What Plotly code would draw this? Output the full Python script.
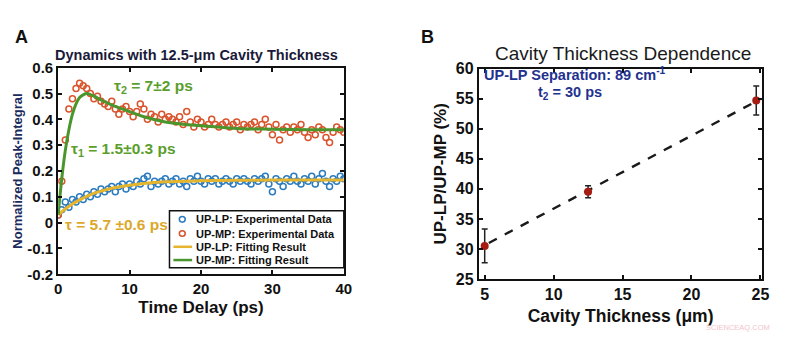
import plotly.graph_objects as go

# ---------------- Panel A data ----------------
t_exp = [0, 0.5, 1, 1.5, 2, 2.5, 3, 3.5, 4, 4.5, 5, 5.5, 6, 6.5, 7, 7.5, 8, 8.5, 9, 9.5,
         10, 10.5, 11, 11.5, 12, 12.5, 13, 13.5, 14, 14.5, 15, 15.5, 16, 16.5, 17, 17.5, 18, 18.5, 19, 19.5,
         20, 20.5, 21, 21.5, 22, 22.5, 23, 23.5, 24, 24.5, 25, 25.5, 26, 26.5, 27, 27.5, 28, 28.5, 29, 29.5,
         30, 30.5, 31, 31.5, 32, 32.5, 33, 33.5, 34, 34.5, 35, 35.5, 36, 36.5, 37, 37.5, 38, 38.5, 39, 39.5, 40]

up_mp_exp = [0.03, 0.16, 0.32, 0.44, 0.48, 0.52, 0.54, 0.53, 0.52, 0.50, 0.48, 0.49, 0.47, 0.46, 0.45, 0.47, 0.44, 0.42, 0.44, 0.45,
             0.43, 0.41, 0.43, 0.46, 0.44, 0.40, 0.42, 0.41, 0.39, 0.42, 0.40, 0.41, 0.40, 0.39, 0.41, 0.38, 0.43, 0.39, 0.37, 0.40,
             0.39, 0.37, 0.38, 0.40, 0.38, 0.37, 0.38, 0.39, 0.37, 0.38, 0.39, 0.36, 0.38, 0.37, 0.38, 0.39, 0.36, 0.38, 0.40, 0.37,
             0.34, 0.38, 0.32, 0.36, 0.37, 0.35, 0.37, 0.36, 0.38, 0.35, 0.33, 0.36, 0.34, 0.37, 0.36, 0.33, 0.31, 0.35, 0.37, 0.36, 0.35]

up_lp_exp = [0.03, 0.05, 0.08, 0.06, 0.09, 0.08, 0.10, 0.09, 0.11, 0.10, 0.12, 0.11, 0.13, 0.12, 0.13, 0.14, 0.12, 0.14, 0.15, 0.13,
             0.15, 0.14, 0.16, 0.15, 0.17, 0.18, 0.14, 0.16, 0.15, 0.16, 0.17, 0.15, 0.16, 0.17, 0.15, 0.16, 0.14, 0.17, 0.16, 0.18,
             0.16, 0.15, 0.17, 0.16, 0.17, 0.15, 0.16, 0.17, 0.16, 0.15, 0.17, 0.16, 0.17, 0.16, 0.15, 0.17, 0.16, 0.17, 0.18, 0.15,
             0.12, 0.17, 0.16, 0.14, 0.17, 0.16, 0.18, 0.16, 0.15, 0.17, 0.16, 0.18, 0.15, 0.17, 0.19, 0.16, 0.14, 0.17, 0.16, 0.18, 0.17]

t_fit_lp = [0, 1, 2, 3, 4, 5, 6, 8, 10, 12, 15, 20, 25, 30, 40]
up_lp_fit = [0.03, 0.053, 0.072, 0.088, 0.102, 0.113, 0.122, 0.136, 0.145, 0.152, 0.158, 0.162, 0.164, 0.165, 0.165]

t_fit_mp = [0, 0.5, 1, 1.5, 2, 2.5, 3, 3.5, 4, 5, 6, 8, 10, 12, 15, 20, 25, 30, 35, 40]
up_mp_fit = [0.03, 0.17, 0.28, 0.36, 0.42, 0.46, 0.485, 0.495, 0.50, 0.49, 0.475, 0.45, 0.43, 0.41, 0.39, 0.375, 0.365, 0.362, 0.36, 0.36]

legend_labels = ["UP-LP: Experimental Data", "UP-MP: Experimental Data",
                 "UP-LP: Fitting Result", "UP-MP: Fitting Result"]

# ---------------- Panel B data ----------------
thickness = [5, 12.5, 24.7]
ratio = [30.5, 39.5, 54.7]
ratio_err_plus = [2.8, 1.0, 2.4]
ratio_err_minus = [2.8, 1.0, 2.4]
fit_thickness = [5.3, 24.4]
fit_ratio = [31.0, 54.2]

BOLD = "Liberation Sans"
NAVY = "#1c2a5c"
C_LP = "#2b7bbf"
C_MP = "#d9532b"
C_LPF = "#e6b52e"
C_MPF = "#4a962c"

W, H = 800, 342
px = lambda v: v / W
py = lambda v: 1 - v / H

fig = go.Figure()

# Panel A traces
fig.add_trace(go.Scatter(x=t_exp, y=up_lp_exp, mode="markers", name=legend_labels[0],
                         marker=dict(symbol="circle-open", size=6, color=C_LP, line=dict(width=1.5)),
                         xaxis="x", yaxis="y"))
fig.add_trace(go.Scatter(x=t_exp, y=up_mp_exp, mode="markers", name=legend_labels[1],
                         marker=dict(symbol="circle-open", size=6, color=C_MP, line=dict(width=1.5)),
                         xaxis="x", yaxis="y"))
fig.add_trace(go.Scatter(x=t_fit_lp, y=up_lp_fit, mode="lines", name=legend_labels[2],
                         line=dict(color=C_LPF, width=3, shape="spline"), xaxis="x", yaxis="y"))
fig.add_trace(go.Scatter(x=t_fit_mp, y=up_mp_fit, mode="lines", name=legend_labels[3],
                         line=dict(color=C_MPF, width=3, shape="spline"), xaxis="x", yaxis="y"))

# Panel B traces
fig.add_trace(go.Scatter(x=fit_thickness, y=fit_ratio, mode="lines",
                         line=dict(color="#1a1a1a", width=2.4, dash="dash"), xaxis="x2", yaxis="y2"))
fig.add_trace(go.Scatter(x=thickness, y=ratio, mode="markers",
                         marker=dict(symbol="circle", size=8, color="#a51d12"),
                         error_y=dict(type="data", array=ratio_err_plus, arrayminus=ratio_err_minus,
                                      color="#222222", thickness=1.5, width=3),
                         xaxis="x2", yaxis="y2"))


def axis_style(size):
    return dict(showline=True, linecolor="#111111", linewidth=2, mirror="ticks", ticks="inside",
                ticklen=4, tickwidth=1.5, tickcolor="#111111", showgrid=False, zeroline=False,
                tickfont=dict(family=BOLD, size=size, color="#111111", weight="bold"))


fig.update_layout(
    width=W, height=H,
    margin=dict(l=0, r=0, t=0, b=0),
    paper_bgcolor="white", plot_bgcolor="white",
    showlegend=False,
    xaxis=dict(domain=[0.06875, 0.43125], range=[0, 40], tickvals=[0, 10, 20, 30, 40], anchor="y",
               title=dict(text="<b>Time Delay (ps)</b>", font=dict(family=BOLD, size=17, color="#111111"), standoff=5),
               **axis_style(15)),
    yaxis=dict(domain=[0.1813, 0.8187], range=[-0.2, 0.6], tickvals=[-0.2, -0.1, 0, 0.1, 0.2, 0.3, 0.4, 0.5, 0.6],
               ticktext=["-0.2", "-0.1", "0", "0.1", "0.2", "0.3", "0.4", "0.5", "0.6"], anchor="x",
               title=dict(text="<b>Normalized Peak-Integral</b>", font=dict(family=BOLD, size=13, color=NAVY), standoff=2),
               **axis_style(15)),
    xaxis2=dict(domain=[0.6025, 0.9625], range=[4.57, 25.15], tickvals=[5, 10, 15, 20, 25], anchor="y2",
                title=dict(text="<b>Cavity Thickness (μm)</b>", font=dict(family=BOLD, size=17.5, color="#111111"), standoff=8),
                **axis_style(16)),
    yaxis2=dict(domain=[0.1667, 0.8158], range=[25, 60], tickvals=[25, 30, 35, 40, 45, 50, 55, 60], anchor="x2",
                title=dict(text="<b>UP-LP/UP-MP (%)</b>", font=dict(family=BOLD, size=17, color="#111111"), standoff=5),
                **axis_style(16)),
)

annotations = [
    dict(x=18, y=30, text="<b>A</b>", font=dict(family=BOLD, size=18, color="#111111")),
    dict(x=430, y=30, text="<b>B</b>", font=dict(family=BOLD, size=18, color="#111111")),
    dict(x=195, y=49, text="<b>Dynamics with 12.5-μm Cavity Thickness</b>", font=dict(family=BOLD, size=14.5, color="#1a1a3a")),
    dict(x=628, y=47, text="Cavity Thickness Dependence", font=dict(family=BOLD, size=19, color="#1a1a1a")),
    dict(x=152, y=82, text="<b>τ<sub>2</sub> = 7±2 ps</b>", font=dict(family=BOLD, size=15.5, color="#5a9e2c")),
    dict(x=121, y=148, text="<b>τ<sub>1</sub> = 1.5±0.3 ps</b>", font=dict(family=BOLD, size=15.5, color="#5a9e2c")),
    dict(x=114, y=227, text="<b>τ = 5.7 ±0.6 ps</b>", font=dict(family=BOLD, size=15.5, color="#dca82a")),
    dict(x=580, y=69, text="<b>UP-LP Separation: 89 cm<sup>-1</sup></b>", font=dict(family=BOLD, size=14.5, color="#1f3290")),
    dict(x=575, y=89, text="<b>t<sub>2</sub> = 30 ps</b>", font=dict(family=BOLD, size=14.5, color="#1f3290")),
    dict(x=745, y=336, text="SCIENCEAQ.COM", font=dict(family=BOLD, size=7.5, color="#f2c4cc")),
]

# Hand-drawn legend for panel A (box, glyphs, labels)
shapes = [dict(type="rect", xref="paper", yref="paper", x0=px(168), x1=px(345), y0=py(273), y1=py(213),
               line=dict(color="#111111", width=1.5), fillcolor="white", layer="above")]
rows = [222, 237, 251, 265]
for i, (lab, yy) in enumerate(zip(legend_labels, rows)):
    annotations.append(dict(x=193, y=yy, text="<b>" + lab + "</b>", xanchor="left",
                            font=dict(family=BOLD, size=11, color="#111111")))
    if i < 2:
        col = C_LP if i == 0 else C_MP
        shapes.append(dict(type="circle", xref="paper", yref="paper", x0=px(178), x1=px(184),
                           y0=py(yy + 3), y1=py(yy - 3), line=dict(color=col, width=1.5), layer="above"))
    else:
        col = C_LPF if i == 2 else C_MPF
        shapes.append(dict(type="line", xref="paper", yref="paper", x0=px(172), x1=px(191),
                           y0=py(yy), y1=py(yy), line=dict(color=col, width=2.5), layer="above"))

for a in annotations:
    a.setdefault("xanchor", "center")
    a.update(xref="paper", yref="paper", showarrow=False, yanchor="middle")
    a["x"] = px(a["x"])
    a["y"] = py(a["y"])
fig.update_layout(annotations=annotations, shapes=shapes)

fig.write_html("out.html")
